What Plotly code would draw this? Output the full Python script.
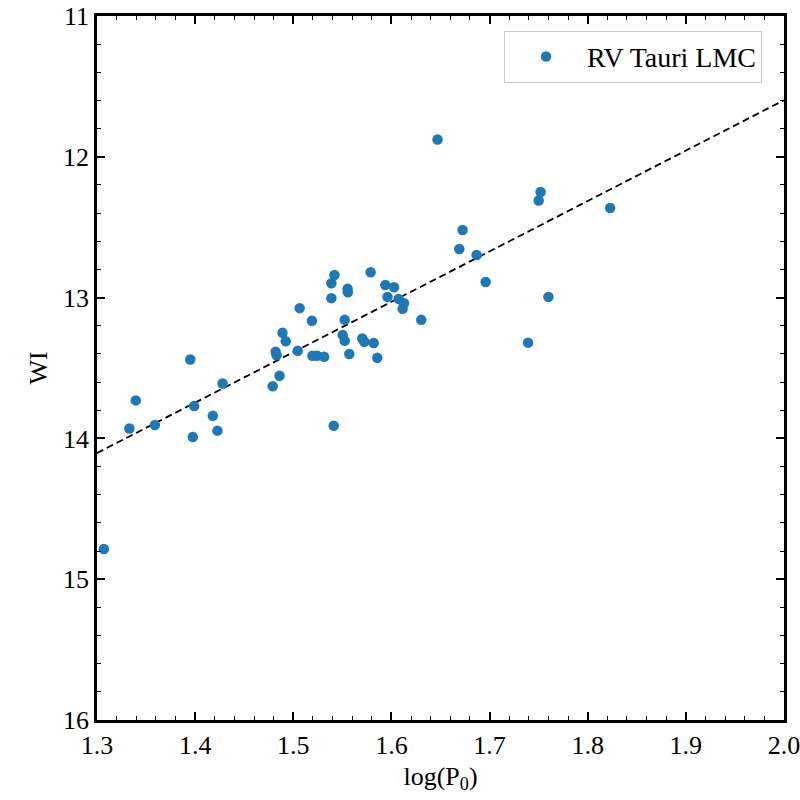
#!/usr/bin/env python3
# -*- coding: utf-8 -*-

# Third-party modules
import numpy as np
import plotly.graph_objects as go

# Data
log_p0 = [
    1.307, 1.333, 1.3395, 1.359, 1.395, 1.399, 1.3976, 1.418, 1.4227, 1.428,
    1.479, 1.486, 1.482, 1.483, 1.489, 1.4923, 1.5045, 1.5065, 1.519, 1.5195,
    1.5242, 1.5314, 1.5388, 1.5388, 1.5419, 1.5412, 1.5503, 1.5524, 1.5524, 1.5553,
    1.5556, 1.5571, 1.5703, 1.5724, 1.5788, 1.5819, 1.5856, 1.5938, 1.596, 1.6027,
    1.6074, 1.6128, 1.6114, 1.6304, 1.647, 1.6691, 1.6725, 1.6868, 1.696, 1.7392,
    1.750, 1.752, 1.760, 1.8229,
]
wi = [
    14.785, 13.93, 13.73, 13.905, 13.44, 13.77, 13.99, 13.84, 13.945, 13.61,
    13.63, 13.555, 13.385, 13.41, 13.25, 13.31, 13.378, 13.075, 13.165, 13.413,
    13.413, 13.42, 12.898, 13.004, 12.84, 13.91, 13.265, 13.307, 13.158, 12.938,
    12.962, 13.40, 13.29, 13.314, 12.82, 13.323, 13.428, 12.91, 12.995, 12.926,
    13.01, 13.04, 13.08, 13.158, 11.877, 12.655, 12.52, 12.697, 12.889, 13.32,
    12.31, 12.25, 12.995, 12.364,
]

# Linear fit WI = a * log(P0) + b
fit_slope = -3.58
fit_intercept = 18.758
fit_range = [1.3, 2.0]

x_ticks = [1.3, 1.4, 1.5, 1.6, 1.7, 1.8, 1.9, 2.0]
x_minor = [round(1.3 + 0.02 * i, 2) for i in range(36)]
y_ticks = [11, 12, 13, 14, 15, 16]
y_minor = [round(11 + 0.2 * i, 1) for i in range(26)]

FONT = "Liberation Serif"
FONT_SIZE = 26

fit_x = np.linspace(fit_range[0], fit_range[1], 50)
fit_y = fit_slope * fit_x + fit_intercept

fig = go.Figure()
fig.add_trace(
    go.Scatter(
        x=fit_x,
        y=fit_y,
        mode="lines",
        line=dict(color="black", width=1.8, dash="7px,4px"),
        showlegend=False,
        hoverinfo="skip",
    )
)
fig.add_trace(
    go.Scatter(
        x=log_p0,
        y=wi,
        mode="markers",
        name="RV Tauri LMC",
        marker=dict(color="#1f77b4", size=10.5),
    )
)

axis_common = dict(
    showline=True,
    linecolor="black",
    linewidth=2.5,
    mirror="allticks",
    ticks="inside",
    ticklen=8,
    tickwidth=1.6,
    tickcolor="black",
    showgrid=False,
    zeroline=False,
    automargin=False,
    ticklabeloverflow="allow",
    tickfont=dict(family=FONT, size=FONT_SIZE, color="black"),
)

fig.update_layout(
    width=800,
    height=800,
    plot_bgcolor="white",
    paper_bgcolor="white",
    margin=dict(l=97, r=16, t=16, b=80),
    font=dict(family=FONT, color="black"),
    xaxis=dict(
        range=[1.3, 2.0],
        tickmode="array",
        tickvals=x_ticks,
        ticktext=[f"{v:.1f}" for v in x_ticks],
        minor=dict(ticks="inside", ticklen=4, tickwidth=1.2,
                   tickvals=x_minor, tickcolor="black"),
        title=dict(text="log(P<sub>0</sub>)",
                   font=dict(family=FONT, size=FONT_SIZE), standoff=8),
        **axis_common,
    ),
    yaxis=dict(
        range=[16, 11],
        tickmode="array",
        tickvals=y_ticks,
        minor=dict(ticks="inside", ticklen=4, tickwidth=1.2,
                   tickvals=y_minor, tickcolor="black"),
        title=dict(text="WI", font=dict(family=FONT, size=FONT_SIZE),
                   standoff=8),
        **axis_common,
    ),
    legend=dict(
        x=0.968,
        y=0.979,
        xanchor="right",
        yanchor="top",
        bgcolor="white",
        bordercolor="#cccccc",
        borderwidth=1,
        itemwidth=72,
        font=dict(family=FONT, size=28, color="black"),
    ),
)

# drop the browser's default 8px body margin so the figure sits at (0, 0)
fig.write_html(
    "out.html",
    config={"displayModeBar": False},
    post_script="document.body.style.margin = '0';",
)
